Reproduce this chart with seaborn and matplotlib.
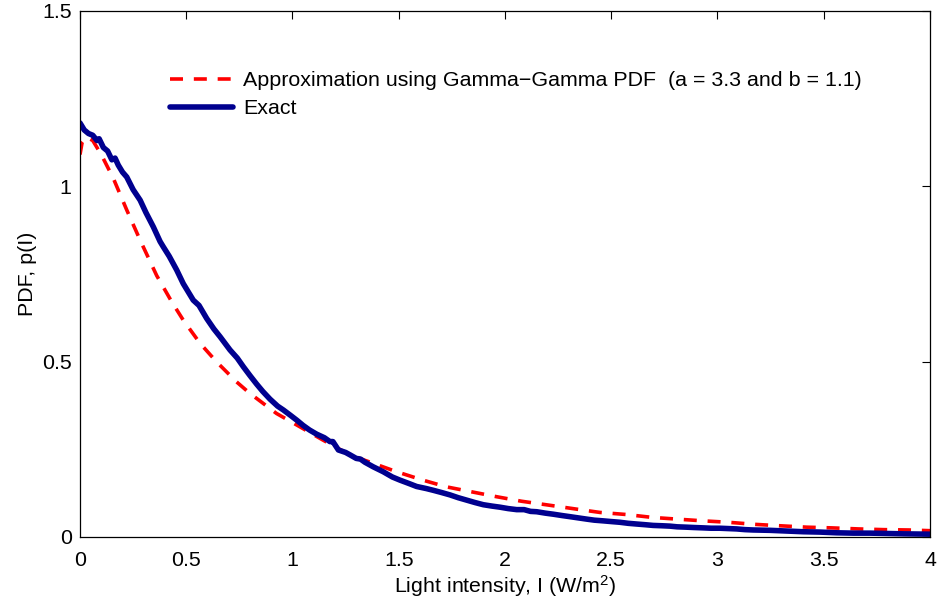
import matplotlib
matplotlib.use("Agg")
import matplotlib.pyplot as plt
import seaborn as sns

# Gamma-Gamma approximation (red dashed)
approx_x = [0.0, 0.01, 0.03, 0.06, 0.10, 0.157, 0.22, 0.283, 0.361, 0.432,
            0.486, 0.565, 0.643, 0.737, 0.80, 0.831, 0.925, 1.035, 1.144,
            1.27, 1.38, 1.49, 1.614, 1.724, 1.841, 1.959, 2.077, 2.204,
            2.33, 2.447, 2.573, 2.69, 2.808, 2.933, 3.05, 3.177, 3.294,
            3.42, 3.537, 3.663, 3.78, 3.9, 4.0]
approx_y = [1.09, 1.125, 1.14, 1.13, 1.09, 1.022, 0.932, 0.846, 0.745, 0.67,
            0.618, 0.552, 0.499, 0.442, 0.409, 0.395, 0.352, 0.314, 0.276,
            0.234, 0.21, 0.186, 0.162, 0.143, 0.129, 0.115, 0.102, 0.091,
            0.08, 0.07, 0.064, 0.056, 0.051, 0.046, 0.042, 0.036, 0.032,
            0.028, 0.026, 0.023, 0.021, 0.02, 0.018]

# Exact (simulated) PDF, thick blue noisy curve
exact_x = [0.0, 0.02, 0.04, 0.06, 0.08, 0.09, 0.11, 0.13, 0.15, 0.165,
           0.18, 0.20, 0.22, 0.25, 0.283, 0.31, 0.345, 0.377, 0.392, 0.42,
           0.455, 0.486, 0.533, 0.56, 0.596, 0.63, 0.659, 0.706, 0.74,
           0.769, 0.80, 0.831, 0.86, 0.894, 0.93, 0.957, 0.99, 1.02, 1.05,
           1.08, 1.114, 1.15, 1.176, 1.19, 1.216, 1.25, 1.271, 1.30, 1.32,
           1.341, 1.38, 1.427, 1.47, 1.506, 1.55, 1.584, 1.63, 1.663, 1.70,
           1.741, 1.78, 1.82, 1.86, 1.898, 1.94, 1.976, 2.015, 2.055, 2.09,
           2.12, 2.149, 2.19, 2.227, 2.27, 2.305, 2.35, 2.384, 2.42, 2.462,
           2.50, 2.54, 2.58, 2.619, 2.66, 2.697, 2.74, 2.776, 2.81, 2.854,
           2.89, 2.933, 2.97, 3.011, 3.05, 3.09, 3.13, 3.168, 3.247, 3.325,
           3.404, 3.482, 3.56, 3.64, 3.718, 3.797, 3.875, 4.0]
exact_y = [1.18, 1.16, 1.15, 1.145, 1.13, 1.135, 1.11, 1.10, 1.075, 1.08,
           1.06, 1.04, 1.026, 0.99, 0.96, 0.925, 0.884, 0.842, 0.827, 0.80,
           0.761, 0.722, 0.675, 0.66, 0.623, 0.593, 0.571, 0.533, 0.51,
           0.485, 0.46, 0.436, 0.415, 0.393, 0.373, 0.362, 0.347, 0.333, 0.318,
           0.305, 0.293, 0.283, 0.272, 0.272, 0.248, 0.241, 0.234, 0.224, 0.222,
           0.213, 0.20, 0.186, 0.171, 0.162, 0.152, 0.144, 0.138, 0.133, 0.127,
           0.12, 0.112, 0.105, 0.098, 0.092, 0.088, 0.085, 0.081, 0.078, 0.078,
           0.073, 0.072, 0.068, 0.065, 0.061, 0.058, 0.054, 0.051, 0.048, 0.046,
           0.044, 0.042, 0.039, 0.037, 0.035, 0.033, 0.032, 0.031, 0.029, 0.028,
           0.027, 0.026, 0.025, 0.025, 0.024, 0.023, 0.021, 0.020, 0.019, 0.017,
           0.015, 0.014, 0.012, 0.011, 0.011, 0.010, 0.009, 0.008]

x_ticks = [0, 0.5, 1, 1.5, 2, 2.5, 3, 3.5, 4]
x_labels = ["0", "0.5", "1", "1.5", "2", "2.5", "3", "3.5", "4"]
y_ticks = [0, 0.5, 1, 1.5]
y_labels = ["0", "0.5", "1", "1.5"]

approx_label = "Approximation using Gamma\u2212Gamma PDF  (a = 3.3 and b = 1.1)"
exact_label = "Exact"

sns.set_theme(style="white")
plt.rcParams["font.family"] = ["Liberation Sans", "DejaVu Sans"]
plt.rcParams["mathtext.default"] = "regular"
plt.rcParams["text.color"] = "black"
plt.rcParams["axes.labelcolor"] = "black"

fs = 15.4

fig = plt.figure(figsize=(9.39, 6.05), dpi=100)
ax = fig.add_axes([0.0852, 0.1124, 0.9052, 0.8699])

sns.lineplot(x=approx_x, y=approx_y, ax=ax, color="#ff0000", lw=2.6,
             estimator=None, sort=False, label=approx_label)
sns.lineplot(x=exact_x, y=exact_y, ax=ax, color="#00008f", lw=4.0,
             estimator=None, sort=False, label=exact_label)
ax.lines[0].set_dashes((3.6, 3.0))

ax.set_xlim(0, 4)
ax.set_ylim(0, 1.5)
ax.set_xticks(x_ticks, x_labels)
ax.set_yticks(y_ticks, y_labels)
ax.tick_params(direction="in", length=6, width=0.8, top=True, right=True,
               labelsize=fs, colors="black", pad=6)
ax.tick_params(axis="x", pad=10)
for s in ax.spines.values():
    s.set_visible(True)
    s.set_color("black")
    s.set_linewidth(0.9)

ax.set_xlabel("Light intensity, I (W/m$^2$)", fontsize=fs, labelpad=2)
ax.set_ylabel("PDF, p(I)", fontsize=fs, labelpad=3.5)

ax.legend(loc="upper left", bbox_to_anchor=(0.106, 0.885), frameon=False,
          fontsize=fs, handlelength=2.95, handletextpad=0.47,
          labelspacing=0.42, borderpad=0, borderaxespad=0)

fig.savefig("out.png", dpi=100)
